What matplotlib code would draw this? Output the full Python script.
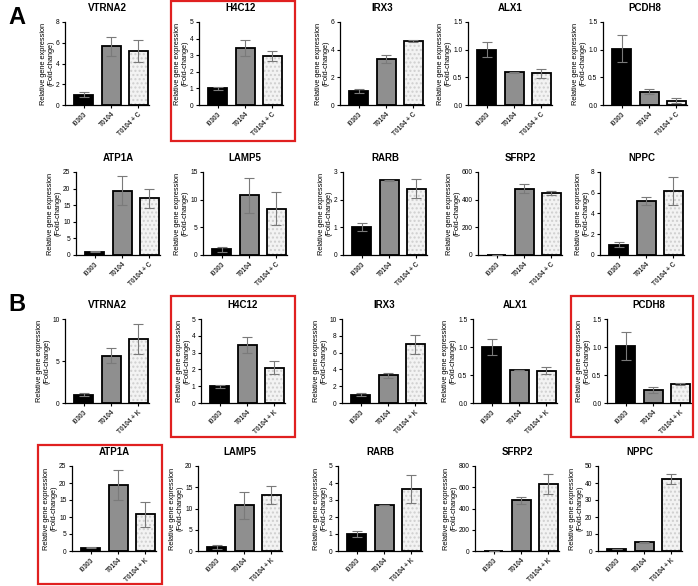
import matplotlib.pyplot as plt
from matplotlib.patches import Rectangle

plt.rcParams['font.family'] = ['Liberation Sans', 'DejaVu Sans']

# Data
genes = ["VTRNA2", "H4C12", "IRX3", "ALX1", "PCDH8",
         "ATP1A", "LAMP5", "RARB", "SFRP2", "NPPC"]
groups_a = ["I0303", "T0104", "T0104 + C"]
groups_b = ["I0303", "T0104", "T0104 + K"]

means_a = [[1.0, 5.65, 5.2], [1.0, 3.45, 2.95], [1.0, 3.3, 4.6], [1.0, 0.59, 0.57], [1.02, 0.24, 0.08],
           [1.0, 19.4, 17.1], [1.0, 10.8, 8.4], [1.0, 2.7, 2.4], [1.0, 478, 448], [1.0, 5.2, 6.2]]
err_a = [[0.22, 0.9, 1.05], [0.08, 0.47, 0.3], [0.15, 0.28, 0.08], [0.14, 0.005, 0.08], [0.25, 0.05, 0.04],
         [0.1, 4.3, 2.9], [0.5, 3.2, 3.0], [0.15, 0.01, 0.33], [0.0, 32, 12], [0.22, 0.35, 1.35]]
ymax_a = [8, 5, 6, 1.5, 1.5, 25, 15, 3, 600, 8]
ystep_a = [2, 1, 2, 0.5, 0.5, 5, 5, 1, 200, 2]

means_b = [[1.0, 5.65, 7.6], [1.0, 3.45, 2.1], [1.0, 3.3, 7.0], [1.0, 0.59, 0.58], [1.02, 0.23, 0.34],
           [1.0, 19.4, 10.8], [1.0, 10.8, 13.2], [1.0, 2.7, 3.65], [1.0, 478, 628], [1.0, 5.2, 42.2]]
err_b = [[0.2, 0.9, 1.8], [0.08, 0.47, 0.4], [0.15, 0.3, 1.15], [0.14, 0.005, 0.06], [0.25, 0.05, 0.015],
         [0.1, 4.3, 3.7], [0.5, 3.2, 2.2], [0.15, 0.01, 0.8], [0.0, 32, 95], [0.1, 0.2, 3.0]]
ymax_b = [10, 5, 10, 1.5, 1.5, 25, 20, 5, 800, 50]
ystep_b = [5, 1, 2, 0.5, 0.5, 5, 5, 1, 200, 10]

# Layout in pixels (left spine x per row, top/bottom y per row)
W, H = 698, 586
row_left = [[65, 199, 340, 468, 603], [76, 203, 343, 478, 600],
            [65, 201, 342, 473, 607], [72, 198, 338, 475, 598]]
row_y = [(22, 105), (172, 255), (319, 403), (466, 551)]
ax_w = 84

bar_colors = ["black", "#8f8f8f", "#f3f3f3"]

fig = plt.figure(figsize=(W / 100, H / 100), dpi=100)


def draw(ax, gene, groups, vals, errs, ymax, ystep):
    x = list(range(len(groups)))
    # faint dotted fill on the third bar, then outlined bars on top
    ax.bar(x[2], vals[2], width=0.7, color=bar_colors[2], edgecolor="#cfcfcf",
           linewidth=0, hatch="....", zorder=1)
    ax.bar(x[:2], vals[:2], width=0.7, color=bar_colors[:2], edgecolor="black",
           linewidth=1.3, zorder=2)
    ax.bar(x[2], vals[2], width=0.7, fill=False, edgecolor="black", linewidth=1.3, zorder=2)
    ax.errorbar(x, vals, yerr=errs, fmt="none", ecolor="#7a7a7a", elinewidth=0.8,
                capsize=3.5, capthick=0.8, zorder=3)
    ax.set_xlim(-0.7, 2.4)
    ax.set_ylim(0, ymax)
    ticks = [i * ystep for i in range(int(round(ymax / ystep)) + 1)]
    ax.set_yticks(ticks)
    if ystep < 1:
        ax.set_yticklabels([f"{t:.1f}" for t in ticks])
    else:
        ax.set_yticklabels([f"{t:g}" for t in ticks])
    ax.set_xticks(x)
    ax.set_xticklabels(groups, rotation=45, ha="right", rotation_mode="anchor",
                       fontsize=4.7, fontweight="bold", color="#333333")
    ax.tick_params(axis="y", labelsize=4.8, length=2.5, width=0.8, pad=1.5)
    ax.tick_params(axis="x", length=2.5, width=0.8, pad=1.5)
    for s in ["top", "right"]:
        ax.spines[s].set_visible(False)
    for s in ["left", "bottom"]:
        ax.spines[s].set_linewidth(0.9)
    ax.set_title(gene, fontsize=7, fontweight="bold", pad=8)
    ax.set_ylabel("Relative gene expression\n(Fold-change)", fontsize=5.3, labelpad=1, linespacing=1.1)


for panel in range(2):
    groups = groups_a if panel == 0 else groups_b
    means = means_a if panel == 0 else means_b
    errs = err_a if panel == 0 else err_b
    ymaxs = ymax_a if panel == 0 else ymax_b
    ysteps = ystep_a if panel == 0 else ystep_b
    for i, gene in enumerate(genes):
        r = panel * 2 + i // 5
        c = i % 5
        top, bot = row_y[r]
        left = row_left[r][c]
        ax = fig.add_axes([left / W, 1 - bot / H, ax_w / W, (bot - top) / H])
        draw(ax, gene, groups, means[i], errs[i], ymaxs[i], ysteps[i])

# Panel letters
fig.text(8 / W, 1 - 6 / H, "A", fontsize=17, fontweight="bold", va="top", ha="left")
fig.text(8 / W, 1 - 293 / H, "B", fontsize=17, fontweight="bold", va="top", ha="left")

# Red highlight boxes (x0, y0, x1, y1 in pixels)
boxes = [(171, 1, 295, 141), (171, 296, 295, 437), (571, 296, 693, 437), (38, 445, 162, 584)]
for x0, y0, x1, y1 in boxes:
    fig.patches.append(Rectangle((x0 / W, 1 - y1 / H), (x1 - x0) / W, (y1 - y0) / H,
                                 transform=fig.transFigure, fill=False,
                                 edgecolor="#e02020", linewidth=1.6))

fig.savefig("out.png", dpi=100)
